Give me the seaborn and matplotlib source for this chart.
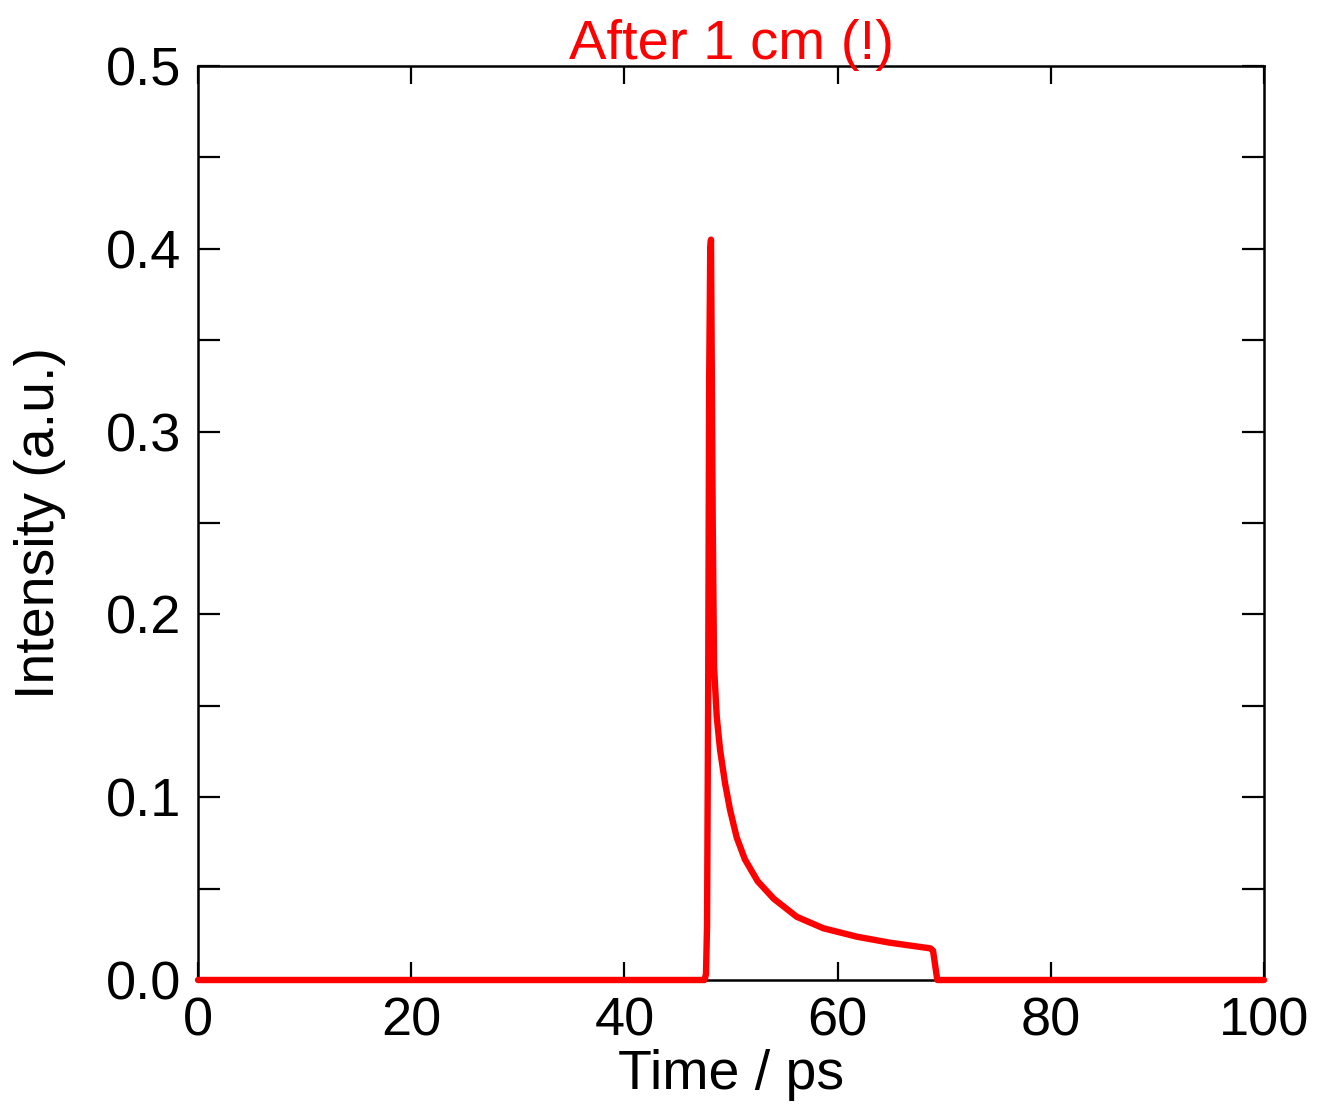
import pandas as pd
import seaborn as sns
import matplotlib.pyplot as plt
from matplotlib.ticker import MultipleLocator, FormatStrFormatter

# pulse after 1 cm
time_ps = [0, 47.5, 47.65, 47.75, 47.85, 47.95, 48.05, 48.12, 48.2, 48.28,
           48.41, 48.66, 48.97, 49.44, 49.91, 50.53, 51.3, 52.5, 54.0, 56.16,
           58.66, 61.8, 64.9, 68.7, 68.95, 69.35, 100]
intensity = [0, 0, 0.003, 0.03, 0.15, 0.33, 0.40, 0.405, 0.33, 0.252,
             0.171, 0.144, 0.126, 0.1076, 0.093, 0.078, 0.066, 0.054, 0.0445, 0.0346,
             0.0283, 0.0237, 0.0204, 0.0173, 0.016, 0, 0]

data = pd.DataFrame({'time': time_ps, 'intensity': intensity})

sns.set_style('ticks')
plt.rcParams['font.family'] = ['Liberation Sans', 'DejaVu Sans']
plt.rcParams['text.color'] = 'black'
plt.rcParams['axes.labelcolor'] = 'black'
plt.rcParams['xtick.color'] = 'black'
plt.rcParams['ytick.color'] = 'black'

fig = plt.figure(figsize=(13.3, 11.13), dpi=100)
ax = fig.add_axes([0.1489, 0.1195, 0.8015, 0.8212])

sns.lineplot(data=data, x='time', y='intensity', color='#ff0000',
             linewidth=4.6, ax=ax, clip_on=False, zorder=3)

ax.set_xlim(0, 100)
ax.set_ylim(0, 0.5)
ax.xaxis.set_major_locator(MultipleLocator(20))
ax.yaxis.set_major_locator(MultipleLocator(0.1))
ax.yaxis.set_minor_locator(MultipleLocator(0.05))
ax.yaxis.set_major_formatter(FormatStrFormatter('%.1f'))

for side in ax.spines.values():
    side.set_linewidth(1.8)
    side.set_color('black')

ax.tick_params(axis='x', which='major', direction='in', length=13, width=1.6,
               top=True, bottom=True, labelsize=39, pad=12)
ax.tick_params(axis='y', which='both', direction='in', length=16, width=1.6,
               left=True, right=True, labelsize=39, pad=12)

ax.set_xlabel('Time / ps', fontsize=40, labelpad=2)
ax.set_ylabel('Intensity (a.u.)', fontsize=40, labelpad=29)
ax.set_title('After 1 cm (!)', fontsize=40.5, color='#ff0000', pad=5)

plt.savefig('out.png', dpi=100)
